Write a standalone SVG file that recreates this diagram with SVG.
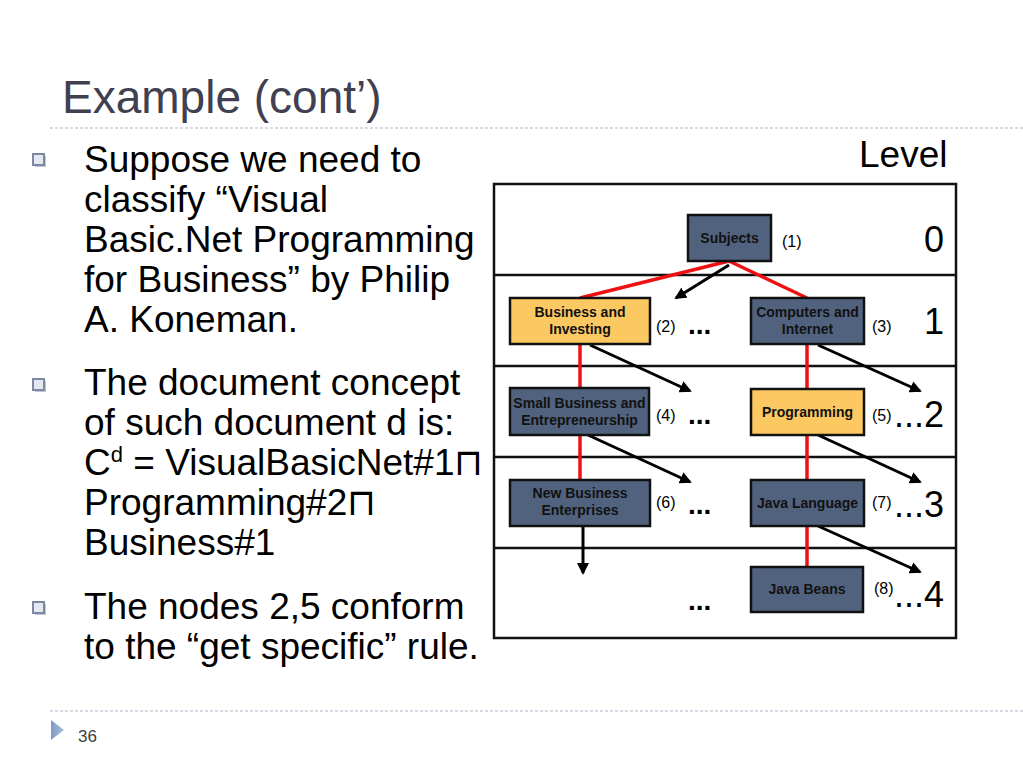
<svg xmlns="http://www.w3.org/2000/svg" width="1023" height="767" viewBox="0 0 1023 767">
<defs>
<style>
.title{font-family:"Liberation Sans",Arial,sans-serif;font-size:46px;fill:#404050}
.body{font-family:"Liberation Sans",Arial,sans-serif;font-size:37px;fill:#000}
.nt{font-family:"Liberation Sans",Arial,sans-serif;font-size:14px;font-weight:bold;fill:#111;text-anchor:middle}
.lab{font-family:"Liberation Sans",Arial,sans-serif;font-size:16px;fill:#000}
.dots{font-family:"Liberation Sans",Arial,sans-serif;font-size:28px;font-weight:bold;fill:#000}
.lvl{font-family:"Liberation Sans",Arial,sans-serif;font-size:36px;fill:#000;text-anchor:end}
.dark{fill:#51627f;stroke:#111;stroke-width:2.5}
.gold{fill:#fcc862;stroke:#111;stroke-width:2.5}
.red{stroke:#ee1111;stroke-width:3.5;fill:none}
.blk{stroke:#000;stroke-width:3;fill:none;marker-end:url(#ah)}
.dash{stroke:#aab4c6;stroke-width:1;stroke-dasharray:3 2}
.bul{fill:#e4e8f0;stroke:#7d88a2;stroke-width:2}
</style>
<marker id="ah" viewBox="0 0 12 12" refX="10" refY="6" markerWidth="12" markerHeight="12" markerUnits="userSpaceOnUse" orient="auto">
<path d="M0,0 L12,6 L0,12 z" fill="#000"/>
</marker>
<linearGradient id="tri" x1="0" y1="0" x2="1" y2="0">
<stop offset="0" stop-color="#7f9bc6"/><stop offset="1" stop-color="#a9bfdc"/>
</linearGradient>
</defs>
<rect width="1023" height="767" fill="#fff"/>
<text class="title" x="62" y="113">Example (cont’)</text>
<line class="dash" x1="50" y1="128" x2="1023" y2="128"/>
<line class="dash" x1="50" y1="711" x2="1023" y2="711"/>
<polygon points="51,720 64,730 51,740" fill="url(#tri)"/>
<text x="78" y="742" font-family="Liberation Sans, Arial, sans-serif" font-size="17" fill="#404040">36</text>

<g id="bullets">
<rect x="35" y="156" width="11" height="11" fill="#c0c6d4"/>
<rect class="bul" x="33" y="154" width="11" height="11"/>
<rect x="35" y="381" width="11" height="11" fill="#c0c6d4"/>
<rect class="bul" x="33" y="379" width="11" height="11"/>
<rect x="35" y="604" width="11" height="11" fill="#c0c6d4"/>
<rect class="bul" x="33" y="602" width="11" height="11"/>
</g>
<g id="bodytext">
<text class="body" x="84" y="172">Suppose we need to</text>
<text class="body" x="84" y="212">classify “Visual</text>
<text class="body" x="84" y="252">Basic.Net Programming</text>
<text class="body" x="84" y="292">for Business” by Philip</text>
<text class="body" x="84" y="332">A. Koneman.</text>
<text class="body" x="84" y="395">The document concept</text>
<text class="body" x="84" y="435">of such document d is:</text>
<text class="body" x="84" y="475">C<tspan font-size="22" dy="-13">d</tspan><tspan dy="13"> = VisualBasicNet#1⊓</tspan></text>
<text class="body" x="84" y="515">Programming#2⊓</text>
<text class="body" x="84" y="555">Business#1</text>
<text class="body" x="84" y="619">The nodes 2,5 conform</text>
<text class="body" x="84" y="659">to the “get specific” rule.</text>
<text class="body" x="859" y="167">Level</text>
</g>

<g id="grid" fill="none" stroke="#111" stroke-width="2.5">
<rect x="494" y="184" width="462" height="454"/>
<line x1="494" y1="275" x2="956" y2="275"/>
<line x1="494" y1="366" x2="956" y2="366"/>
<line x1="494" y1="457" x2="956" y2="457"/>
<line x1="494" y1="548" x2="956" y2="548"/>
</g>

<g id="connectors">
<line class="red" x1="729" y1="261" x2="580" y2="298"/>
<line class="red" x1="729" y1="261" x2="807" y2="298"/>
<line class="red" x1="580" y1="344" x2="580" y2="388"/>
<line class="red" x1="580" y1="435" x2="580" y2="480"/>
<line class="red" x1="807" y1="344" x2="807" y2="389"/>
<line class="red" x1="807" y1="435" x2="807" y2="480"/>
<line class="red" x1="807" y1="526" x2="807" y2="567"/>
<line class="blk" x1="729" y1="265" x2="676" y2="298"/>
<line class="blk" x1="590" y1="345" x2="690" y2="391"/>
<line class="blk" x1="818" y1="345" x2="920" y2="391"/>
<line class="blk" x1="588" y1="435" x2="690" y2="482"/>
<line class="blk" x1="818" y1="435" x2="920" y2="482"/>
<line class="blk" x1="583" y1="526" x2="583" y2="573"/>
<line class="blk" x1="818" y1="526" x2="920" y2="572"/>
</g>

<g id="n1"><rect class="dark" x="688" y="215" width="83" height="46"/><text class="nt" x="729.5" y="243">Subjects</text></g>
<g id="n2"><rect class="gold" x="510" y="298" width="140" height="46"/><text class="nt" x="580" y="317">Business and</text><text class="nt" x="580" y="334">Investing</text></g>
<g id="n3"><rect class="dark" x="751" y="298" width="113" height="46"/><text class="nt" x="807.5" y="317">Computers and</text><text class="nt" x="807.5" y="334">Internet</text></g>
<g id="n4"><rect class="dark" x="510" y="388" width="139" height="47"/><text class="nt" x="579.5" y="408">Small Business and</text><text class="nt" x="579.5" y="425">Entrepreneurship</text></g>
<g id="n5"><rect class="gold" x="751" y="389" width="113" height="46"/><text class="nt" x="807.5" y="417">Programming</text></g>
<g id="n6"><rect class="dark" x="510" y="480" width="140" height="46"/><text class="nt" x="580" y="498">New Business</text><text class="nt" x="580" y="515">Enterprises</text></g>
<g id="n7"><rect class="dark" x="751" y="480" width="113" height="46"/><text class="nt" x="807.5" y="508">Java Language</text></g>
<g id="n8"><rect class="dark" x="751" y="567" width="112" height="45"/><text class="nt" x="807" y="594">Java Beans</text></g>

<g id="labels">
<text class="lab" x="782" y="247">(1)</text>
<text class="lab" x="656" y="332">(2)</text>
<text class="lab" x="872" y="332">(3)</text>
<text class="lab" x="656" y="421">(4)</text>
<text class="lab" x="872" y="421">(5)</text>
<text class="lab" x="656" y="508">(6)</text>
<text class="lab" x="872" y="508">(7)</text>
<text class="lab" x="874" y="594">(8)</text>
<text class="dots" x="688" y="334">...</text>
<text class="dots" x="688" y="424">...</text>
<text class="dots" x="688" y="514">...</text>
<text class="dots" x="688" y="610">...</text>
<text class="lvl" x="944" y="252">0</text>
<text class="lvl" x="944" y="334">1</text>
<text class="lvl" x="944" y="427">...2</text>
<text class="lvl" x="944" y="517">...3</text>
<text class="lvl" x="944" y="607">...4</text>
</g>
</svg>
